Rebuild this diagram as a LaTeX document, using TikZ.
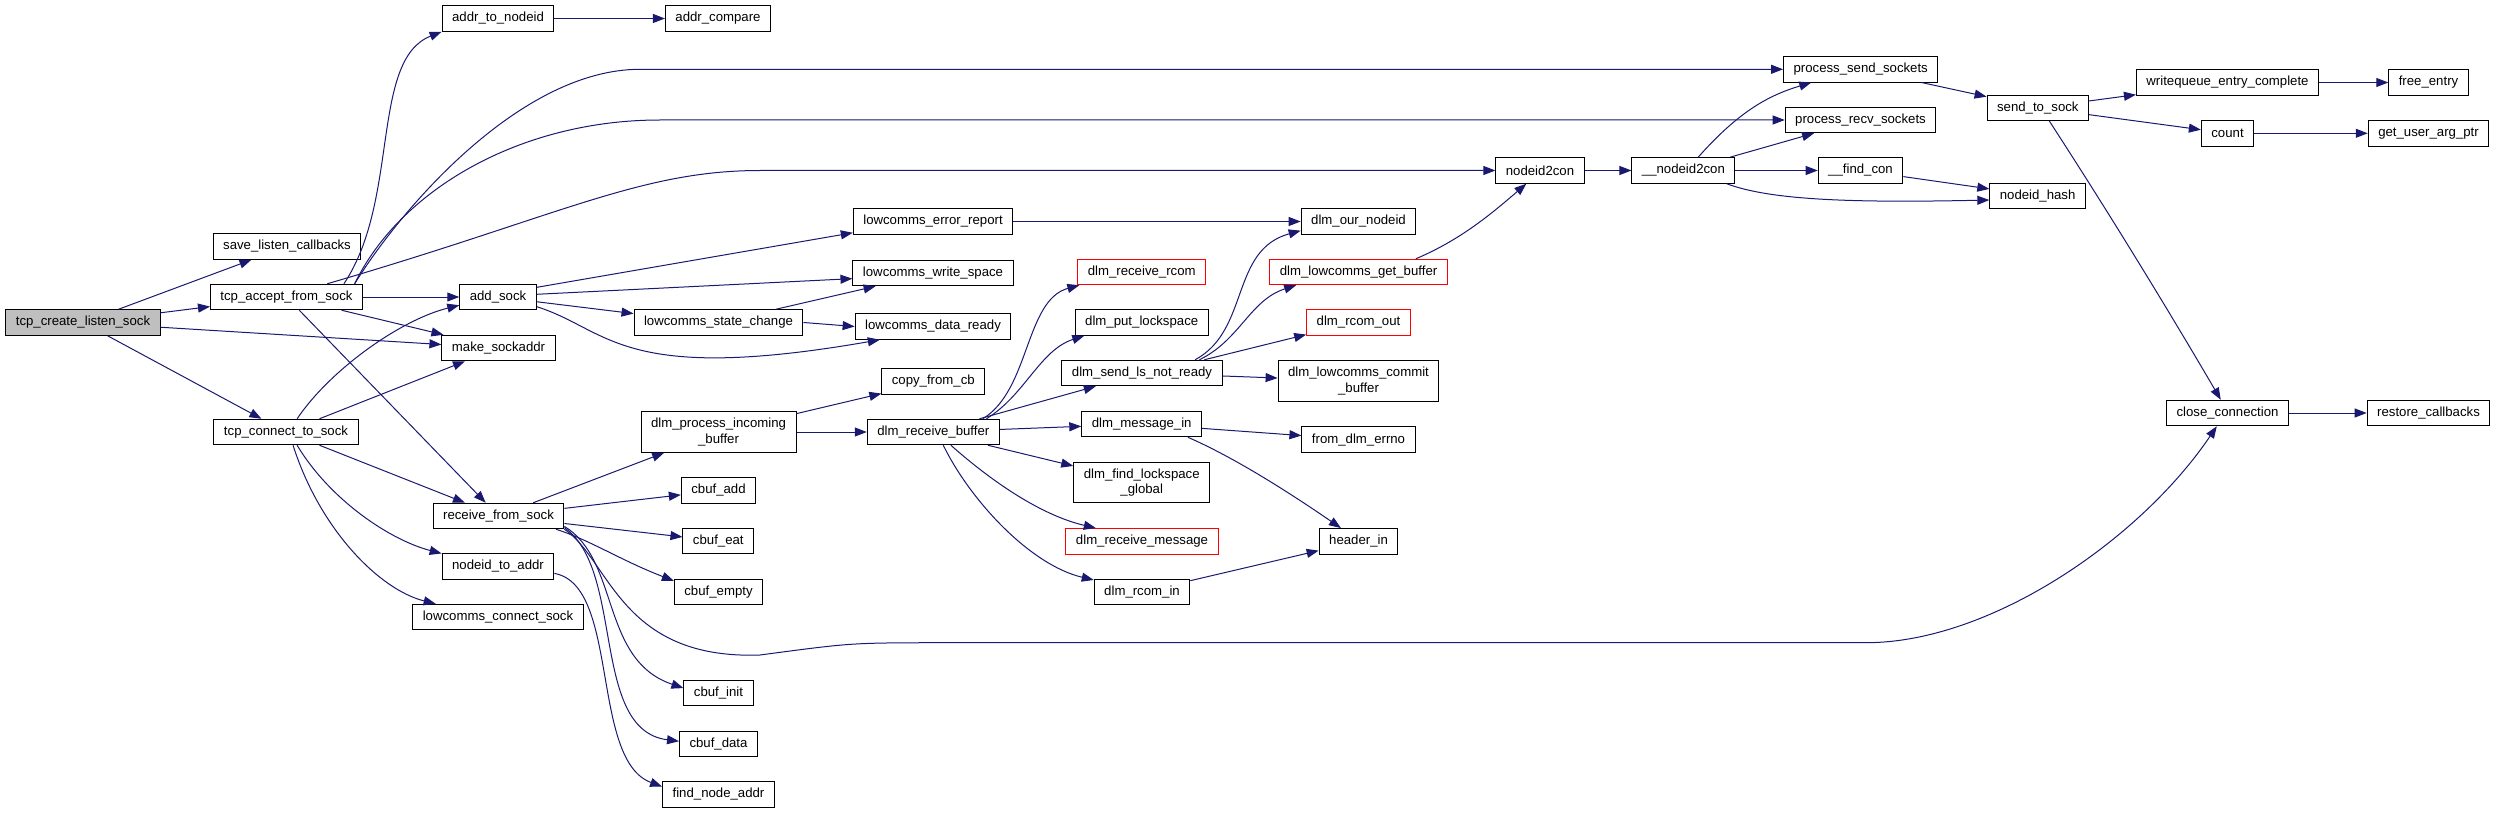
\documentclass[tikz,border=0pt]{standalone}
\usepackage{fontspec}
\setmainfont{Liberation Sans}
\usepackage{tikz}
\usetikzlibrary{arrows.meta,positioning,calc}
\definecolor{EdgeNavy}{HTML}{191970}
\definecolor{RootGray}{HTML}{BFBFBF}
\definecolor{LinkRed}{HTML}{FF0000}

\begin{document}
\begin{tikzpicture}[
  x=1pt,y=-1pt,
  func/.style={draw,line width=1pt,fill=white,font=\fontsize{13.2}{15.5}\selectfont,inner xsep=10pt,inner ysep=0pt,minimum height=25.5pt},
  functall/.style={func,align=center,minimum height=40.5pt},
  call/.style={draw=EdgeNavy,line width=1pt,-{Triangle[length=12pt,width=9pt]}}
]
\useasboundingbox (0,0) rectangle (2496,813);
\node[func,fill=RootGray] (listen) at (83,322.5) {tcp\_create\_listen\_sock};
\node[func] (savecb) at (287,246.5) {save\_listen\_callbacks};
\node[func] (accept) at (286.5,297) {tcp\_accept\_from\_sock};
\node[func] (connect) at (286,432) {tcp\_connect\_to\_sock};
\node[func] (addrnid) at (498,18.5) {addr\_to\_nodeid};
\node[func] (addsock) at (498,297) {add\_sock};
\node[func] (mkaddr) at (498.5,348) {make\_sockaddr};
\node[func] (recv) at (498.5,516) {receive\_from\_sock};
\node[func] (nidaddr) at (498,566.5) {nodeid\_to\_addr};
\node[func] (connsock) at (498,617) {lowcomms\_connect\_sock};
\node[func] (addrcmp) at (718,18.5) {addr\_compare};
\node[func] (statechg) at (718.5,322.5) {lowcomms\_state\_change};
\node[functall] (incoming) at (718.5,432) {dlm\_process\_incoming\\\_buffer};
\node[func] (cbadd) at (718.5,490.5) {cbuf\_add};
\node[func] (cbeat) at (718.3,541) {cbuf\_eat};
\node[func] (cbempty) at (718.5,592) {cbuf\_empty};
\node[func] (cbinit) at (718.5,693) {cbuf\_init};
\node[func] (cbdata) at (718.5,744) {cbuf\_data};
\node[func] (findaddr) at (718.5,794.5) {find\_node\_addr};
\node[func] (errrep) at (933,221.5) {lowcomms\_error\_report};
\node[func] (wspace) at (933,273) {lowcomms\_write\_space};
\node[func] (dready) at (933,326.5) {lowcomms\_data\_ready};
\node[func] (copycb) at (933.3,381.3) {copy\_from\_cb};
\node[func] (recvbuf) at (933.3,432) {dlm\_receive\_buffer};
\node[func,draw=LinkRed] (rcvrcom) at (1141.7,272) {dlm\_receive\_rcom};
\node[func] (putls) at (1141.7,322.5) {dlm\_put\_lockspace};
\node[func] (sendls) at (1142,373) {dlm\_send\_ls\_not\_ready};
\node[func] (msgin) at (1141.7,424) {dlm\_message\_in};
\node[functall] (findls) at (1141.7,482.5) {dlm\_find\_lockspace\\\_global};
\node[func,draw=LinkRed] (rcvmsg) at (1142,541.3) {dlm\_receive\_message};
\node[func] (rcomin) at (1142,592) {dlm\_rcom\_in};
\node[func] (ournid) at (1358.5,221.5) {dlm\_our\_nodeid};
\node[func,draw=LinkRed] (getbuf) at (1358.5,272) {dlm\_lowcomms\_get\_buffer};
\node[func,draw=LinkRed] (rcomout) at (1358.5,322.5) {dlm\_rcom\_out};
\node[functall] (commit) at (1358.5,381) {dlm\_lowcomms\_commit\\\_buffer};
\node[func] (errno) at (1358.5,439.7) {from\_dlm\_errno};
\node[func] (hdrin) at (1358.5,541.3) {header\_in};
\node[func] (nid2con) at (1540,170.5) {nodeid2con};
\node[func] (unid2con) at (1683.4,170.5) {\_\_nodeid2con};
\node[func] (sendsk) at (1860.7,69.3) {process\_send\_sockets};
\node[func] (recvsk) at (1860.5,120) {process\_recv\_sockets};
\node[func] (findcon) at (1860.5,170.5) {\_\_find\_con};
\node[func] (sendto) at (2037.8,107.8) {send\_to\_sock};
\node[func] (nidhash) at (2037.6,195.8) {nodeid\_hash};
\node[func] (wqcomplete) at (2227.5,82.5) {writequeue\_entry\_complete};
\node[func] (count) at (2227.5,133.3) {count};
\node[func] (closecon) at (2227.5,413) {close\_connection};
\node[func] (freeent) at (2428.5,82.5) {free\_entry};
\node[func] (userarg) at (2428.5,133.3) {get\_user\_arg\_ptr};
\node[func] (restorecb) at (2428.5,413) {restore\_callbacks};

\draw[call] (listen) -- (savecb);
\draw[call] (listen) -- (accept);
\draw[call] (listen) -- (mkaddr);
\draw[call] (listen) -- (connect);
\draw[call] (accept.13) .. controls (400,200) and (370,60) .. (addrnid.south west);
\draw[call] (accept.11) .. controls (400,210) and (520,69.3) .. (640,0 |- sendsk.west) -- (sendsk.west);
\draw[call] (accept.11) .. controls (400,190) and (520,120) .. (660,0 |- recvsk.west) -- (recvsk.west);
\draw[call] (accept.18) .. controls (560,216) and (640,170.5) .. (760,0 |- nid2con.west) -- (nid2con.west);
\draw[call] (accept) -- (addsock);
\draw[call] (accept) -- (mkaddr);
\draw[call] (accept) -- (recv);
\draw[call] (addrnid) -- (addrcmp);
\draw[call] (addsock.14) -- (errrep.188);
\draw[call] (addsock.4) -- (wspace.184);
\draw[call] (addsock.-7) -- (statechg.174);
\draw[call] (addsock.-14) .. controls (610,330) and (620,385) .. (dready.194);
\draw[call] (statechg.13) -- (wspace.193);
\draw[call] (statechg.east) -- (dready.west);
\draw[call] (errrep) -- (ournid);
\draw[call] (connect.50) .. controls (330,370) and (400,320) .. (addsock.192);
\draw[call] (connect) -- (mkaddr);
\draw[call] (connect) -- (recv);
\draw[call] (connect.-50) .. controls (330,500) and (390,540) .. (nidaddr.167);
\draw[call] (connect.-62) .. controls (320,530) and (380,590) .. (connsock.168);
\draw[call] (recv) -- (incoming);
\draw[call] (recv) -- (cbadd);
\draw[call] (recv) -- (cbeat);
\draw[call] (recv.-13) .. controls (590,540) and (620,560) .. (cbempty.166);
\draw[call] (recv.-9) .. controls (620,560) and (600,660) .. (cbinit.172);
\draw[call] (recv.-10) .. controls (625,570) and (590,730) .. (cbdata.176);
\draw[call] (recv.south east) .. controls (610,560) and (620,660) .. (760,655) .. controls (850,643) .. (930,642.7) -- (1866,642.7) .. controls (1990,642.7) and (2140,540) .. (closecon.231);
\draw[call] (nidaddr.-7) .. controls (620,585) and (590,760) .. (findaddr.172);
\draw[call] (incoming) -- (copycb);
\draw[call] (incoming) -- (recvbuf);
\draw[call] (recvbuf.15) .. controls (1030,390) and (1025,300) .. (rcvrcom.192);
\draw[call] (recvbuf.14) .. controls (1025,395) and (1040,350) .. (putls.193);
\draw[call] (recvbuf.16) -- (sendls.196);
\draw[call] (recvbuf) -- (msgin);
\draw[call] (recvbuf) -- (findls);
\draw[call] (recvbuf.-37) .. controls (990,480) and (1040,515) .. (rcvmsg.164);
\draw[call] (recvbuf.-53) .. controls (970,500) and (1030,565) .. (rcomin.166);
\draw[call] (sendls.14) .. controls (1250,330) and (1230,250) .. (ournid.189);
\draw[call] (sendls.13) .. controls (1240,340) and (1250,300) .. (getbuf.192);
\draw[call] (sendls.12) -- (rcomout.193);
\draw[call] (sendls) -- (commit);
\draw[call] (getbuf.13) .. controls (1460,240) and (1490,215) .. (nid2con.224);
\draw[call] (msgin) -- (errno);
\draw[call] (msgin.-16) .. controls (1240,460) and (1300,500) .. (hdrin.143);
\draw[call] (rcomin) -- (hdrin);
\draw[call] (nid2con) -- (unid2con);
\draw[call] (unid2con.42) .. controls (1740,110) and (1770,95) .. (sendsk.195);
\draw[call] (unid2con) -- (recvsk);
\draw[call] (unid2con) -- (findcon);
\draw[call] (unid2con.-17) .. controls (1770,200) and (1850,203) .. (nidhash.185);
\draw[call] (findcon) -- (nidhash);
\draw[call] (sendsk) -- (sendto);
\draw[call] (sendto) -- (wqcomplete);
\draw[call] (sendto) -- (count);
\draw[call] (sendto.-49) .. controls (2120,230) and (2180,330) .. (closecon.117);
\draw[call] (wqcomplete) -- (freeent);
\draw[call] (count) -- (userarg);
\draw[call] (closecon) -- (restorecb);
\end{tikzpicture}
\end{document}
